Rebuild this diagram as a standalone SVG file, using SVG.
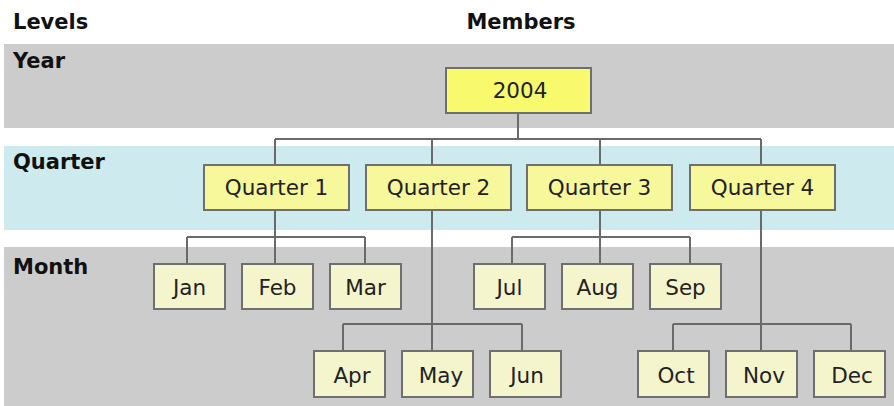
<svg xmlns="http://www.w3.org/2000/svg" width="894" height="406" viewBox="0 0 894 406">
<style>
.hdr{font-family:"DejaVu Sans",Verdana,sans-serif;font-weight:bold;font-size:21px;fill:#111}
.t{font-family:"DejaVu Sans",Verdana,sans-serif;font-size:21.5px;fill:#222;text-anchor:middle}
.y{fill:#f9f96e;stroke:#6f6f6f;stroke-width:2}
.q{fill:#f7f79c;stroke:#6f6f6f;stroke-width:2}
.m{fill:#f5f5cd;stroke:#6f6f6f;stroke-width:2}
.c{fill:none;stroke:#6a6a6a;stroke-width:2}
</style>
<rect width="894" height="406" fill="#ffffff"/>
<g id="bands">
<rect x="4" y="44" width="890" height="84" fill="#cccccc"/>
<rect x="4" y="146" width="890" height="84" fill="#cdebee"/>
<rect x="4" y="247" width="890" height="159" fill="#cccccc"/>
</g>
<g id="labels">
<text class="hdr" x="13" y="29">Levels</text>
<text class="hdr" x="521" y="29" text-anchor="middle">Members</text>
<text class="hdr" x="13" y="68">Year</text>
<text class="hdr" x="13" y="169">Quarter</text>
<text class="hdr" x="13" y="274">Month</text>
</g>
<g id="connectors">
<path class="c" d="M518 113V139M275 139H761M275 139V165M432 139V165M600 139V165M761 139V165"/>
<path class="c" d="M275 210V237M187 237H365M187 237V264M275 237V264M365 237V264"/>
<path class="c" d="M600 210V237M512 237H690M512 237V264M600 237V264M690 237V264"/>
<path class="c" d="M432 210V351M343 324H522M343 324V351M522 324V351"/>
<path class="c" d="M761 210V351M673 324H851M673 324V351M851 324V351"/>
</g>
<g id="n2004"><rect class="y" x="446" y="68" width="145" height="45"/><text class="t" x="520" y="98">2004</text></g>
<g id="q1"><rect class="q" x="204" y="165" width="145" height="45"/><text class="t" x="276.5" y="195">Quarter 1</text></g>
<g id="q2"><rect class="q" x="366" y="165" width="145" height="45"/><text class="t" x="438.5" y="195">Quarter 2</text></g>
<g id="q3"><rect class="q" x="527" y="165" width="145" height="45"/><text class="t" x="599.5" y="195">Quarter 3</text></g>
<g id="q4"><rect class="q" x="690" y="165" width="145" height="45"/><text class="t" x="762.5" y="195">Quarter 4</text></g>
<g id="jan"><rect class="m" x="154" y="264" width="71" height="45"/><text class="t" x="189.5" y="295">Jan</text></g>
<g id="feb"><rect class="m" x="242" y="264" width="71" height="45"/><text class="t" x="277.5" y="295">Feb</text></g>
<g id="mar"><rect class="m" x="330" y="264" width="71" height="45"/><text class="t" x="365.5" y="295">Mar</text></g>
<g id="jul"><rect class="m" x="474" y="264" width="71" height="45"/><text class="t" x="509.5" y="295">Jul</text></g>
<g id="aug"><rect class="m" x="562" y="264" width="71" height="45"/><text class="t" x="597.5" y="295">Aug</text></g>
<g id="sep"><rect class="m" x="650" y="264" width="71" height="45"/><text class="t" x="685.5" y="295">Sep</text></g>
<g id="apr"><rect class="m" x="314" y="351" width="71" height="46"/><text class="t" x="352" y="383">Apr</text></g>
<g id="may"><rect class="m" x="402" y="351" width="71" height="46"/><text class="t" x="441" y="383">May</text></g>
<g id="jun"><rect class="m" x="490" y="351" width="71" height="46"/><text class="t" x="527" y="383">Jun</text></g>
<g id="oct"><rect class="m" x="638" y="351" width="71" height="46"/><text class="t" x="676" y="383">Oct</text></g>
<g id="nov"><rect class="m" x="726" y="351" width="71" height="46"/><text class="t" x="764" y="383">Nov</text></g>
<g id="dec"><rect class="m" x="814" y="351" width="71" height="46"/><text class="t" x="852" y="383">Dec</text></g>
</svg>
